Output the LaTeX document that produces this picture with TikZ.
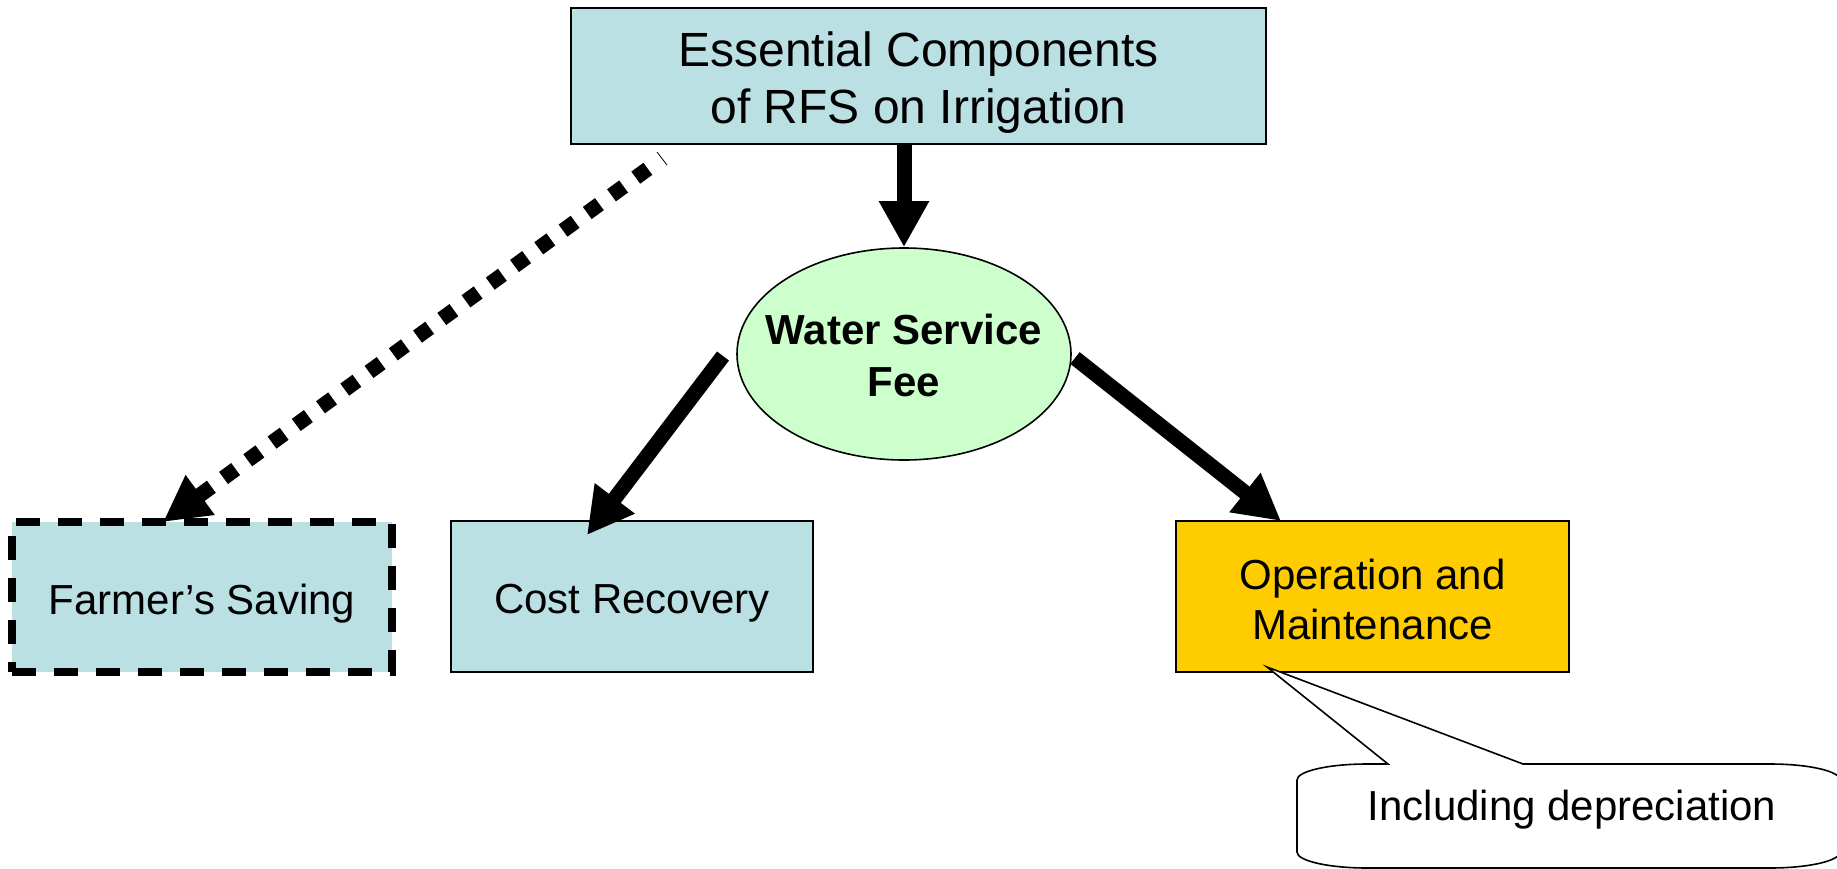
\documentclass[tikz,border=0pt]{standalone}
\usepackage{fontspec}
\setmainfont{Liberation Sans}
\usetikzlibrary{arrows.meta,shapes.geometric,calc}
\definecolor{boxblue}{HTML}{BBE0E3}
\definecolor{feegreen}{HTML}{CCFFCC}
\definecolor{omgold}{HTML}{FFCC00}
\begin{document}
\begin{tikzpicture}[x=0.5pt,y=-0.5pt,
  box/.style={draw=black,line width=0.8pt,fill=boxblue,inner sep=0pt,align=center,font=\fontsize{21}{25}\selectfont},
  bigarrow/.style={-{Triangle[length=23pt,width=23.5pt]},line width=7.5pt},
  dotarrow/.style={-{Triangle[length=23pt,width=23pt]},line width=7.5pt,dash pattern=on 7.5pt off 7.5pt,dash phase=7.5pt},
  callout/.style={draw=black,line width=0.8pt,fill=white},
]
\useasboundingbox (0,0) rectangle (1837,868);

% nodes
\node[box,minimum width=347.5pt,minimum height=68pt,font=\fontsize{24}{28.5}\selectfont] (top) at (918.5,76) {\rule{0pt}{24pt}Essential Components\\of RFS on Irrigation};
\node[ellipse,draw=black,fill=feegreen,line width=0.8pt,minimum width=167pt,minimum height=106pt,inner xsep=-11pt,inner ysep=0pt,align=center,font=\bfseries\fontsize{21}{26}\selectfont] (fee) at (904,354) {\rule{0pt}{17pt}Water Service\\Fee};
\node[box,line width=4pt,dash pattern=on 12pt off 9pt,minimum width=190pt,minimum height=75pt] (farm) at (202,597) {\rule{0pt}{21.5pt}Farmer’s Saving};
\node[box,minimum width=181pt,minimum height=75.5pt] (cost) at (632,596.5) {\rule{0pt}{21.5pt}Cost Recovery};
\node[box,fill=omgold,minimum width=196.5pt,minimum height=75.5pt] (om) at (1372.5,596.5) {\rule{0pt}{18pt}Operation and\\Maintenance};

% connector end points
\coordinate (dotstart) at (660,160);
\coordinate (dotend) at (163,522);
\coordinate (coststart) at (723,356);
\coordinate (costend) at (587,535);
\coordinate (omstart) at (1075,358);
\coordinate (omend) at (1281,521);
\coordinate (tail) at (1267,667);

% connectors
\draw[bigarrow] (top.south -| fee.north) -- (fee.north);
\draw[bigarrow] (coststart) -- (costend);
\draw[bigarrow] (omstart) -- (omend);
\draw[dotarrow] (dotstart) -- (dotend);
\draw[line width=0.4pt] (657,152) -- (667,165);

% callout
\draw[callout] (1297,780) -- (1297,852)
  arc[start angle=180,end angle=90,x radius=70,y radius=16] -- (1770,868)
  arc[start angle=90,end angle=0,x radius=70,y radius=16] -- (1840,780)
  arc[start angle=0,end angle=-90,x radius=70,y radius=16] -- (1523,764)
  -- (tail) -- (1388,764) -- (1367,764)
  arc[start angle=-90,end angle=-180,x radius=70,y radius=16] -- cycle;
\node[font=\fontsize{21}{25}\selectfont] (dep) at (1572,806) {\rule{0pt}{19pt}Including depreciation};
\end{tikzpicture}
\end{document}
